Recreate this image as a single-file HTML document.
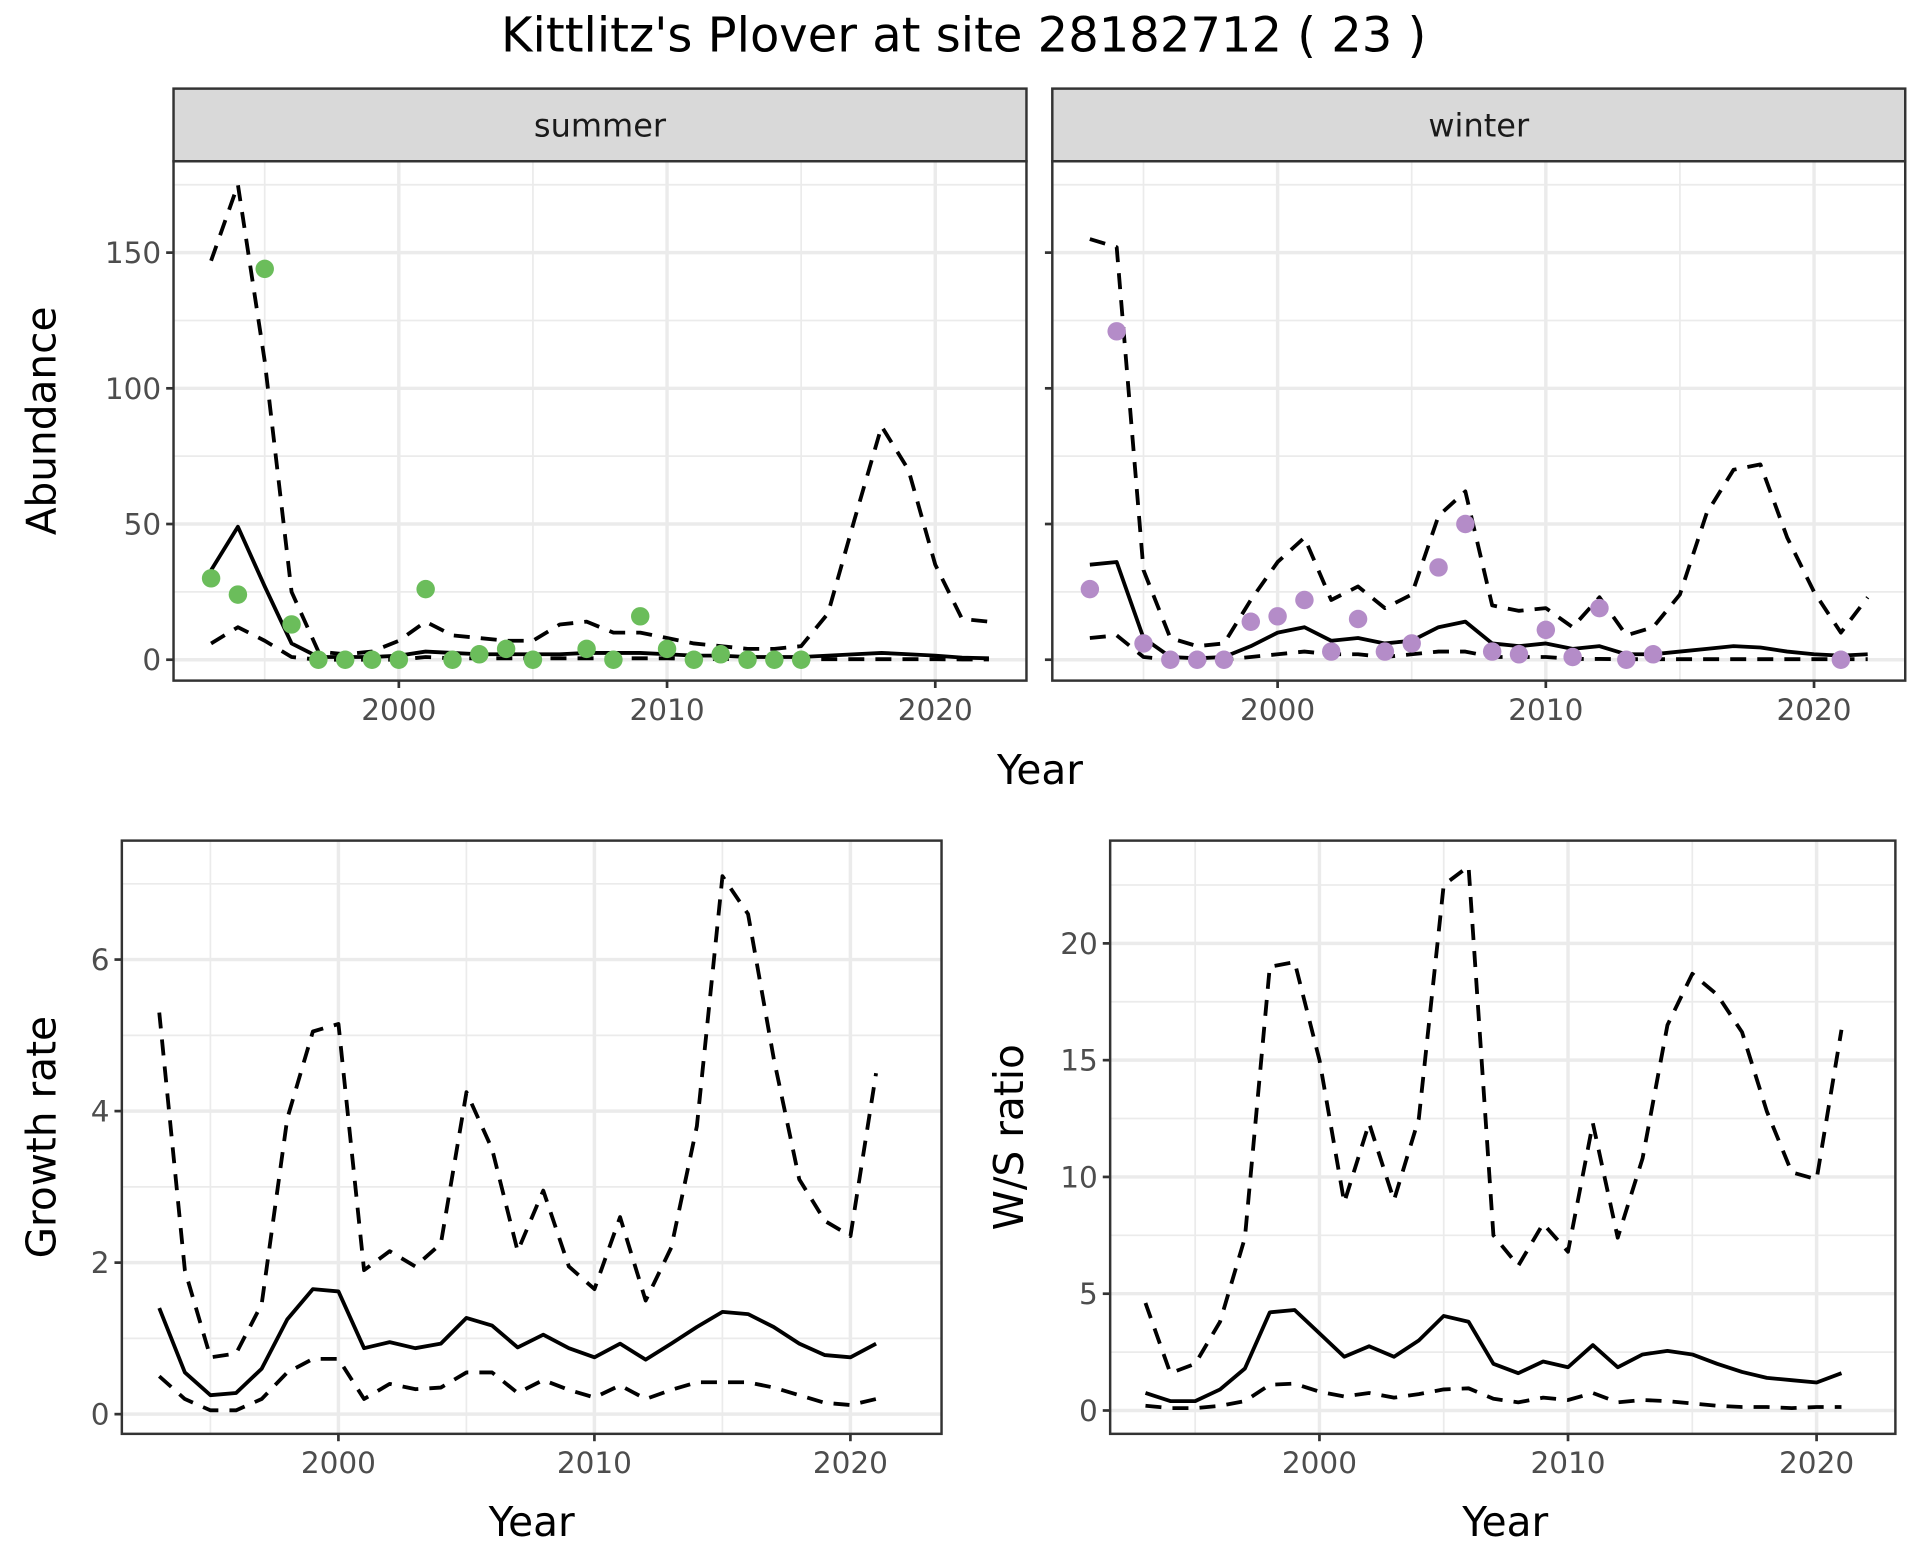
<!DOCTYPE html>
<html><head><meta charset="utf-8"><style>
html,body{margin:0;padding:0;background:#fff;}
svg{display:block;font-family:"DejaVu Sans","Liberation Sans",sans-serif;}
</style></head><body>
<svg id="chart" width="1920" height="1560" viewBox="0 0 1560 1267.5" xmlns="http://www.w3.org/2000/svg">
<rect width="1560" height="1267.5" fill="#fff"/>
<text x="783" y="42" font-size="39" text-anchor="middle" fill="#000">Kittlitz's Plover at site 28182712 ( 23 )</text>
</svg>
<script>
const yearsA = [1993,1994,1995,1996,1997,1998,1999,2000,2001,2002,2003,2004,2005,2006,2007,2008,2009,2010,2011,2012,2013,2014,2015,2016,2017,2018,2019,2020,2021,2022];
const sumMean = [33,49,27,6,1,1,1,1.5,3,2.5,2,2,2,2,2.5,2.5,2.5,2,1.5,1.5,1,1,1,1.5,2,2.5,2,1.5,0.8,0.5];
const sumUpper = [147,175,110,25,3,2,3,7,14,9,8,7,7,13,14,10,10,8,6,5,4,4,5,17,52,86,70,35,15,14];
const sumLower = [6,12,7,1,0,0,0,0,1,0.5,0.5,0.5,0.5,0.5,0.5,0.5,0.5,0.5,0.3,0.3,0.2,0.2,0.2,0.2,0.2,0.2,0.2,0.2,0.1,0.1];
const sumPtYears = [1993,1994,1995,1996,1997,1998,1999,2000,2001,2002,2003,2004,2005,2007,2008,2009,2010,2011,2012,2013,2014,2015];
const sumPts = [30,24,144,13,0,0,0,0,26,0,2,4,0,4,0,16,4,0,2,0,0,0];
const winMean = [35,36,8,1,0.5,1,5,10,12,7,8,6,7,12,14,6,5,6,4,5,2,2,3,4,5,4.5,3,2,1.5,2];
const winUpper = [155,152,33,8,5,6,22,36,45,22,27,19,24,53,62,20,18,19,12,23,9,12,24,54,70,72,45,25,10,23];
const winLower = [8,9,1,0,0,0,1,2,3,2,2,1,2,3,3,1,1,1,0.3,0.3,0.2,0.2,0.2,0.2,0.2,0.2,0.2,0.2,0.2,0.2];
const winPtYears = [1993,1994,1995,1996,1997,1998,1999,2000,2001,2002,2003,2004,2005,2006,2007,2008,2009,2010,2011,2012,2013,2014,2021];
const winPts = [26,121,6,0,0,0,14,16,22,3,15,3,6,34,50,3,2,11,1,19,0,2,0];
const yearsB = [1993,1994,1995,1996,1997,1998,1999,2000,2001,2002,2003,2004,2005,2006,2007,2008,2009,2010,2011,2012,2013,2014,2015,2016,2017,2018,2019,2020,2021];
const grMean = [1.4,0.55,0.25,0.28,0.6,1.25,1.65,1.62,0.87,0.95,0.87,0.93,1.27,1.17,0.88,1.05,0.87,0.75,0.93,0.72,0.93,1.15,1.35,1.32,1.15,0.93,0.78,0.75,0.93];
const grUpper = [5.3,1.9,0.75,0.8,1.45,3.9,5.05,5.15,1.9,2.15,1.95,2.25,4.25,3.5,2.15,2.95,1.95,1.65,2.6,1.5,2.2,3.8,7.1,6.6,4.7,3.1,2.55,2.35,4.5];
const grLower = [0.5,0.2,0.05,0.05,0.2,0.55,0.73,0.73,0.2,0.4,0.33,0.35,0.55,0.55,0.28,0.45,0.32,0.22,0.38,0.2,0.32,0.42,0.42,0.42,0.35,0.25,0.15,0.12,0.2];
const wsMean = [0.75,0.4,0.4,0.9,1.8,4.2,4.3,3.3,2.3,2.75,2.3,3.0,4.05,3.8,2.0,1.6,2.1,1.85,2.8,1.85,2.4,2.55,2.4,2.0,1.65,1.4,1.3,1.2,1.6];
const wsUpper = [4.6,1.6,2.0,3.8,7.4,19,19.2,15,8.9,12.3,9.0,12.5,22.5,23.3,7.5,6.2,8.0,6.8,12.3,7.4,10.8,16.5,18.7,17.8,16.2,12.8,10.2,9.9,16.3];
const wsLower = [0.2,0.1,0.1,0.2,0.4,1.1,1.15,0.8,0.6,0.75,0.55,0.7,0.9,0.95,0.5,0.35,0.55,0.45,0.75,0.35,0.45,0.4,0.3,0.2,0.15,0.15,0.1,0.15,0.15];
const xTicks = [2000,2010,2020];
const xMinor = [1995,2005,2015];
const abTicks = [0,50,100,150];
const abMinor = [25,75,125,175];
const grTicks = [0,2,4,6];
const grMinor = [1,3,5,7];
const wsTicks = [0,5,10,15,20];
const wsMinor = [2.5,7.5,12.5,17.5,22.5];

const NS='http://www.w3.org/2000/svg';
const svg=document.getElementById('chart');
function mk(tag,attrs,parent){const e=document.createElementNS(NS,tag);for(const k in attrs)e.setAttribute(k,attrs[k]);(parent||svg).appendChild(e);return e;}

function panel(name,L,T,R,B,xmin,xmax,ymin,ymax,yTicks,yMinor,showY){
  const g=mk('g',{});
  
  
  const sx=v=>L+(v-xmin)/(xmax-xmin)*(R-L);
  const sy=v=>B-(v-ymin)/(ymax-ymin)*(B-T);
  mk('rect',{x:L,y:T,width:R-L,height:B-T,fill:'#fff'},g);
  xMinor.forEach(v=>mk('line',{x1:sx(v),x2:sx(v),y1:T,y2:B,stroke:'#ebebeb','stroke-width':1.4},g));
  yMinor.forEach(v=>{if(sy(v)>T)mk('line',{x1:L,x2:R,y1:sy(v),y2:sy(v),stroke:'#ebebeb','stroke-width':1.4},g);});
  xTicks.forEach(v=>mk('line',{x1:sx(v),x2:sx(v),y1:T,y2:B,stroke:'#ebebeb','stroke-width':2.8},g));
  yTicks.forEach(v=>mk('line',{x1:L,x2:R,y1:sy(v),y2:sy(v),stroke:'#ebebeb','stroke-width':2.8},g));
  xTicks.forEach(v=>{
    mk('line',{x1:sx(v),x2:sx(v),y1:B,y2:B+6,stroke:'#333','stroke-width':2.2},g);
    const t=mk('text',{x:sx(v),y:B+32,'font-size':24,'text-anchor':'middle',fill:'#4d4d4d'},g);
    
    
    t.textContent=v;
  });
  yTicks.forEach(v=>{
    mk('line',{x1:L-6,x2:L,y1:sy(v),y2:sy(v),stroke:'#333','stroke-width':2.2},g);
    if(showY){const t=mk('text',{x:L-10,y:sy(v)+8.5,'font-size':24,'text-anchor':'end',fill:'#4d4d4d'},g);
    
    
    t.textContent=v;}
  });
  return {g,sx,sy,L,T,R,B};
}
function line(p,xs,ys,dashed,name){
  const d=xs.map((x,i)=>(i?'L':'M')+p.sx(x).toFixed(1)+','+p.sy(ys[i]).toFixed(1)).join('');
  const e=mk('path',{d:d,fill:'none',stroke:'#000','stroke-width':3.1,'stroke-dasharray':dashed?'13,9':'none','stroke-linejoin':'round'},p.g);
  
  
}
function pts(p,xs,ys,col,name){
  xs.forEach((x,i)=>{const c=mk('circle',{cx:p.sx(x),cy:p.sy(ys[i]),r:7.5,fill:col},p.g);
  
  });
}
function border(p){mk('rect',{x:p.L,y:p.T,width:p.R-p.L,height:p.B-p.T,fill:'none',stroke:'#333','stroke-width':2},p.g);}
function strip(L,R,label,name){
  const r=mk('rect',{x:L,y:72,width:R-L,height:59,fill:'#d9d9d9',stroke:'#333','stroke-width':2});
  
  
  const t=mk('text',{x:(L+R)/2,y:111,'font-size':26,'text-anchor':'middle',fill:'#1a1a1a'});
  
  
  t.textContent=label;
}
function label(txt,x,y,rot,name){
  const t=mk('text',{x:x,y:y,'font-size':33,'text-anchor':'middle',fill:'#000',transform:rot?`rotate(-90 ${x} ${y})`:''});
  
  
  t.textContent=txt;
}
const yTop=(536-131)/2.205;
const pS=panel('summer-panel',141,131,834,553,1991.6,2023.4,-7.7,yTop,abTicks,abMinor,true);
line(pS,yearsA,sumUpper,true,'summer-upper-ci');line(pS,yearsA,sumLower,true,'summer-lower-ci');line(pS,yearsA,sumMean,false,'summer-mean-line');
pts(pS,sumPtYears,sumPts,'#6bbd5b','summer-point');border(pS);
const pW=panel('winter-panel',855,131,1548,553,1991.6,2023.4,-7.7,yTop,abTicks,abMinor,false);
line(pW,yearsA,winUpper,true,'winter-upper-ci');line(pW,yearsA,winLower,true,'winter-lower-ci');line(pW,yearsA,winMean,false,'winter-mean-line');
pts(pW,winPtYears,winPts,'#b48cc8','winter-point');border(pW);
strip(141,834,'summer','summer-strip');strip(855,1548,'winter','winter-strip');
label('Year',845,637,false,'top-x-axis-title');label('Abundance',45,342,true,'top-y-axis-title');
const pG=panel('growth-panel',99,683,765,1165,1991.54,2023.56,-0.26,7.57,grTicks,grMinor,true);
line(pG,yearsB,grUpper,true,'growth-upper-ci');line(pG,yearsB,grLower,true,'growth-lower-ci');line(pG,yearsB,grMean,false,'growth-mean-line');border(pG);
label('Year',432,1248,false,'growth-x-axis-title');label('Growth rate',45,924,true,'growth-y-axis-title');
const pR=panel('ws-ratio-panel',902,683,1540,1165,1991.58,2023.17,-1.0,24.4,wsTicks,wsMinor,true);
line(pR,yearsB,wsUpper,true,'ws-upper-ci');line(pR,yearsB,wsLower,true,'ws-lower-ci');line(pR,yearsB,wsMean,false,'ws-mean-line');border(pR);
label('Year',1223,1248,false,'ws-x-axis-title');label('W/S ratio',831,924,true,'ws-y-axis-title');
</script>
</body></html>
